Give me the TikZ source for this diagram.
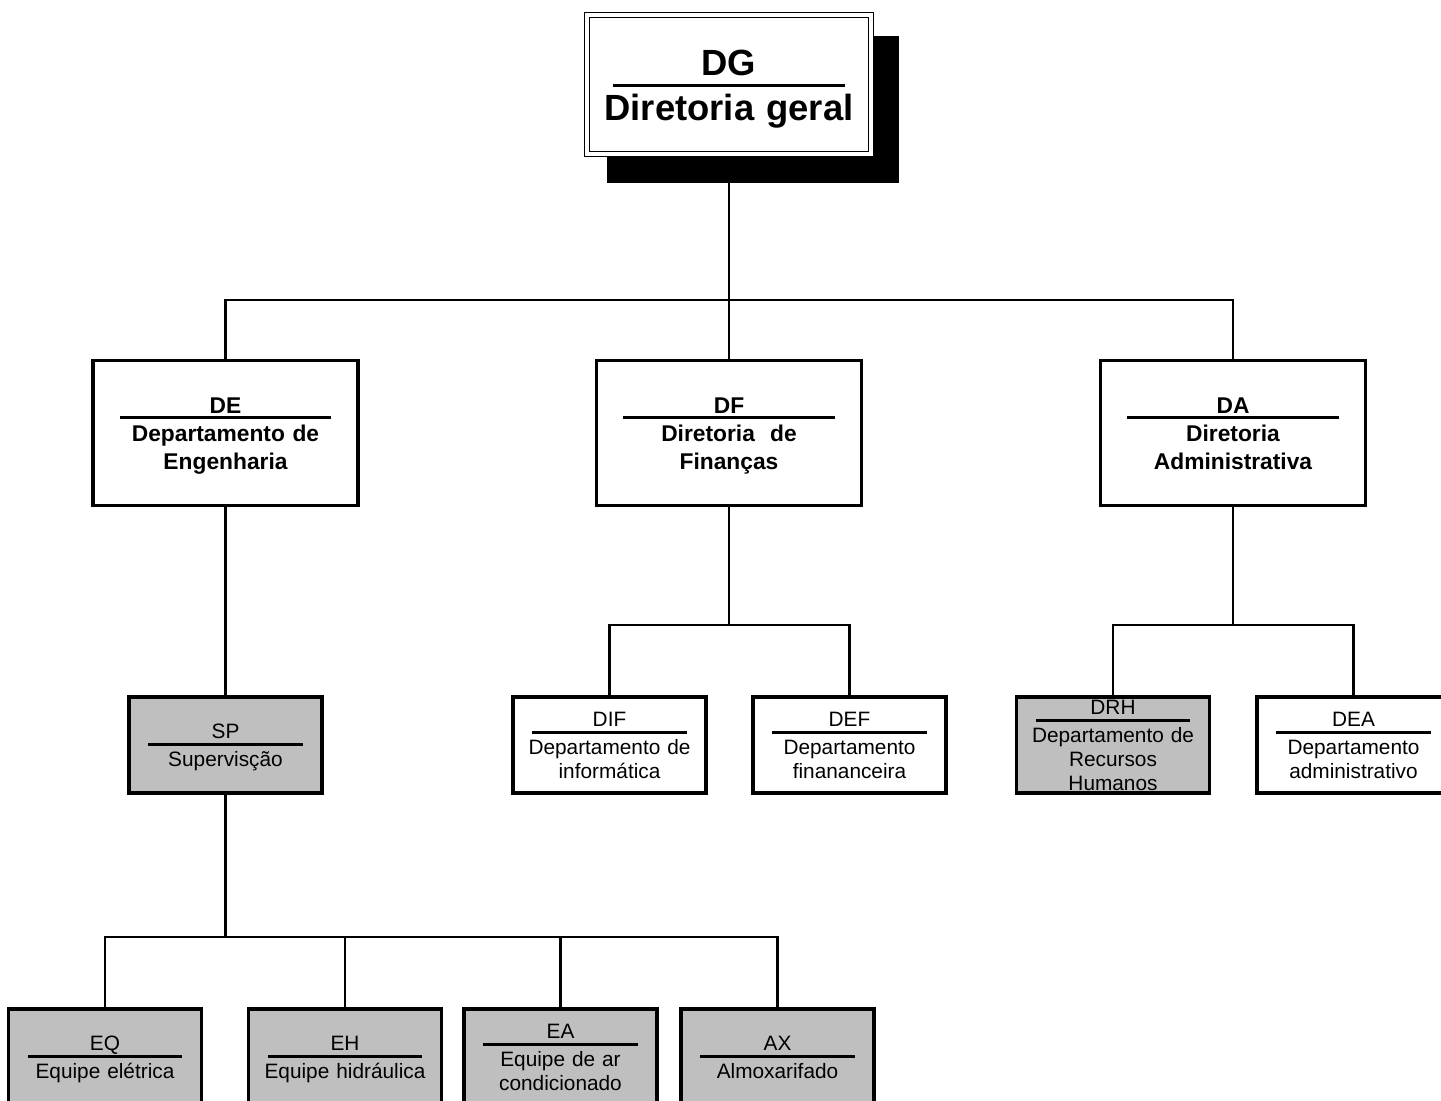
\documentclass[tikz,border=0pt]{standalone}
\usepackage{fontspec}
\setmainfont{Liberation Sans}
\usetikzlibrary{positioning, calc, backgrounds}

% gaps around the rule that splits code and name
\newlength{\codegap}
\newlength{\descgap}
\newlength{\rulewd}
\newcommand{\traco}{\\[\codegap]\rule{\rulewd}{2pt}\\[\descgap]}
\newcommand{\topo}{\rule{0pt}{0.94em}}
\newcommand{\fundo}{\rule[-0.21em]{0pt}{0.21em}}

\begin{document}
\begin{tikzpicture}[
  x=0.025cm, y=-0.025cm,
  caixa/.style={
    draw, line width=2.2pt, fill=white, align=center, inner sep=0pt,
    text width=4.825cm, minimum height=2.4cm,
    font=\fontsize{14.8}{17}\selectfont,
    execute at begin node={\setlength{\codegap}{-11.7pt}%
      \setlength{\descgap}{-2.6pt}\setlength{\rulewd}{3.85cm}\topo},
    execute at end node={\fundo}
  },
  cinza/.style={caixa, fill=black!25},
  diretoria/.style={
    caixa, text width=6.625cm, minimum height=3.625cm,
    font=\fontsize{16.2}{19.8}\selectfont\bfseries,
    execute at begin node={\setlength{\codegap}{-15.8pt}%
      \setlength{\descgap}{-3.7pt}\setlength{\rulewd}{5.275cm}\topo}
  },
  geral/.style={
    caixa, line width=0.8pt, double=white, double distance=2.5pt,
    text width=7.1cm, minimum height=3.475cm,
    font=\fontsize{25.9}{31}\selectfont\bfseries,
    execute at begin node={\setlength{\codegap}{-22.5pt}%
      \setlength{\descgap}{-7.6pt}\setlength{\rulewd}{5.8cm}\topo}
  },
  linha/.style={line width=2pt}
]
  \useasboundingbox (0,0) rectangle (1441,1100);

  % Top
  \node[geral] (dg) at (729,84.5) {DG\traco Diretoria geral};

  % Diretorias
  \node[diretoria] (de) at (225.5,433) {DE\traco Departamento de\\Engenharia};
  \node[diretoria] (df) at (729,433) {DF\traco Diretoria\ \ de\\Finanças};
  \node[diretoria] (da) at (1233,433) {DA\traco Diretoria\\Administrativa};

  % Departamentos
  \node[cinza] (sp) at (225.5,745) {SP\traco Supervisção};
  \node[caixa] (dif) at (609.5,745) {DIF\traco Departamento de\\informática};
  \node[caixa] (def) at (849.5,745) {DEF\traco Departamento\\finananceira};
  % text runs over the border here
  \node[cinza, inner ysep=-2.5pt] (drh) at (1113,745) {DRH\traco Departamento de\\Recursos\\Humanos};
  \node[caixa] (dea) at (1353.5,745) {DEA\traco Departamento\\administrativo};

  % Equipes
  \node[cinza] (eq) at (105,1057) {EQ\traco Equipe elétrica};
  \node[cinza] (eh) at (345,1057) {EH\traco Equipe hidráulica};
  \node[cinza] (ea) at (560.5,1057) {EA\traco Equipe de ar\\condicionado};
  \node[cinza] (ax) at (777.5,1057) {AX\traco Almoxarifado};

  % Bus lines
  \coordinate (busdg) at (729,300);
  \coordinate (busdf) at (729,625);
  \coordinate (busda) at (1233,625);
  \coordinate (bussp) at (225.5,937);

  \begin{scope}[on background layer]
    % shadow of the top box
    \fill ($(dg.north west)+(21,22)$) rectangle ($(dg.south east)+(27,28)$);

    \draw[linha] (dg) -- (df);
    \draw[linha] (de.north) |- (busdg) -| (da.north);

    \draw[linha] (df) -- (busdf);
    \draw[linha] (dif.north) |- (busdf) -| (def.north);

    \draw[linha] (da) -- (busda);
    \draw[linha] (drh.north) |- (busda) -| (dea.north);

    \draw[linha] (de) -- (sp);
    \draw[linha] (sp) -- (bussp);
    \draw[linha] (eq.north) |- (bussp) -| (ax.north);
    \draw[linha] (eh.north) -- (eh.north |- bussp);
    \draw[linha] (ea.north) -- (ea.north |- bussp);
  \end{scope}
\end{tikzpicture}
\end{document}
